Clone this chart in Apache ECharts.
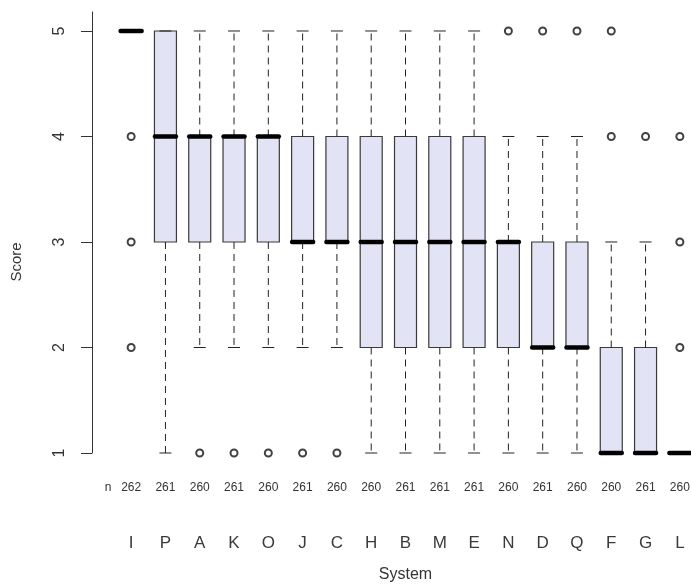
<!DOCTYPE html>
<html>
<head>
<meta charset="utf-8">
<script src="https://cdn.jsdelivr.net/npm/echarts@6/dist/echarts.min.js"></script>
<style>
  html, body { margin: 0; padding: 0; background: #fff; }
  #chart { width: 691px; height: 587px; }
</style>
</head>
<body>
<div id="chart"></div>
<script>
// Score distribution per system (box: whisker low, Q1, median, Q3, whisker high)
const systems      = ['I','P','A','K','O','J','C','H','B','M','E','N','D','Q','F','G','L'];
const counts       = [262,261,260,261,260,261,260,260,261,261,261,260,261,260,260,261,260];
const whiskerLow   = [5,1,2,2,2,2,2,1,1,1,1,1,1,1,1,1,1];
const lowerQuart   = [5,3,3,3,3,3,3,2,2,2,2,2,2,2,1,1,1];
const medians      = [5,4,4,4,4,3,3,3,3,3,3,3,2,2,1,1,1];
const upperQuart   = [5,5,4,4,4,4,4,4,4,4,4,3,3,3,2,2,1];
const whiskerHigh  = [5,5,5,5,5,5,5,5,5,5,5,4,4,4,3,3,1];

// Outlying scores
const outlierSystems = ['I','I','I','A','K','O','J','C','N','D','Q','F','F','G','L','L','L'];
const outlierScores  = [4,3,2,1,1,1,1,1,5,5,5,5,4,4,4,3,2];

const scoreTicks = [1, 2, 3, 4, 5];

const BOX_W = 22;
const CAP_W = 12;

const boxData = systems.map((s, i) =>
  [i, whiskerLow[i], lowerQuart[i], medians[i], upperQuart[i], whiskerHigh[i]]);
const outlierData = outlierSystems.map((s, i) => [s, outlierScores[i]]);

function renderBox(params, api) {
  const i = api.value(0);
  const lo = api.coord([i, api.value(1)]);
  const q1 = api.coord([i, api.value(2)]);
  const md = api.coord([i, api.value(3)]);
  const q3 = api.coord([i, api.value(4)]);
  const hi = api.coord([i, api.value(5)]);
  const x = md[0];
  const half = BOX_W / 2;
  const cap = CAP_W / 2;
  const dashed = { stroke: '#222', lineWidth: 1, lineDash: [7, 5] };
  const solid = { stroke: '#222', lineWidth: 1 };
  return {
    type: 'group',
    children: [
      { type: 'rect',
        shape: { x: x - half, y: q3[1], width: BOX_W, height: q1[1] - q3[1] },
        style: { fill: '#e3e3f6', stroke: '#3a3a3a', lineWidth: 1.2 } },
      { type: 'line', shape: { x1: x, y1: q3[1], x2: x, y2: hi[1] }, style: dashed },
      { type: 'line', shape: { x1: x, y1: q1[1], x2: x, y2: lo[1] }, style: dashed },
      { type: 'line', shape: { x1: x - cap, y1: hi[1], x2: x + cap, y2: hi[1] }, style: solid },
      { type: 'line', shape: { x1: x - cap, y1: lo[1], x2: x + cap, y2: lo[1] }, style: solid },
      { type: 'line', shape: { x1: x - half + 0.5, y1: md[1], x2: x + half - 0.5, y2: md[1] },
        style: { stroke: '#000', lineWidth: 4.5, lineCap: 'round' } }
    ]
  };
}

const chart = echarts.init(document.getElementById('chart'), null, { renderer: 'canvas' });

chart.setOption({
  animation: false,
  backgroundColor: '#ffffff',
  textStyle: { fontFamily: 'Liberation Sans, Arial, sans-serif' },
  grid: { left: 114, right: -6, top: 12, bottom: 134, outerBoundsMode: 'none' },
  xAxis: [
    {
      type: 'category',
      data: systems,
      position: 'bottom',
      axisLine: { show: false },
      axisTick: { show: false },
      splitLine: { show: false },
      axisLabel: {
        interval: 0,
        margin: 29,
        fontSize: 12,
        color: '#333',
        formatter: (v, i) => String(counts[i])
      }
    },
    {
      type: 'category',
      data: systems,
      position: 'bottom',
      axisLine: { show: false },
      axisTick: { show: false },
      splitLine: { show: false },
      axisLabel: { interval: 0, margin: 82, fontSize: 17, color: '#3a3a3a' },
      name: 'System',
      nameLocation: 'middle',
      nameGap: 114,
      nameTextStyle: { fontSize: 16, color: '#333' }
    }
  ],
  yAxis: {
    type: 'value',
    min: 1,
    max: 5.18,
    interval: 1,
    offset: 22,
    axisLine: { show: true, lineStyle: { color: '#333', width: 1 } },
    axisTick: { show: true, length: 11, customValues: scoreTicks, lineStyle: { color: '#333' } },
    axisLabel: {
      customValues: scoreTicks,
      rotate: 90,
      margin: 24,
      fontSize: 16,
      color: '#333'
    },
    splitLine: { show: false }
  },
  graphic: [
    { type: 'text', x: 108, y: 488, rotation: 0,
      style: { text: 'n', fontSize: 12, fill: '#333', align: 'center', verticalAlign: 'middle',
               fontFamily: 'Liberation Sans, Arial, sans-serif' } },
    { type: 'text', x: 17, y: 262, rotation: Math.PI / 2,
      style: { text: 'Score', fontSize: 15, fill: '#333', align: 'center', verticalAlign: 'middle',
               fontFamily: 'Liberation Sans, Arial, sans-serif' } }
  ],
  series: [
    {
      type: 'custom',
      xAxisIndex: 0,
      renderItem: renderBox,
      encode: { x: 0, y: [1, 2, 3, 4, 5] },
      data: boxData,
      z: 2
    },
    {
      type: 'scatter',
      xAxisIndex: 0,
      data: outlierData,
      symbol: 'emptyCircle',
      symbolSize: 7,
      itemStyle: { color: '#111', borderColor: '#111', borderWidth: 1.6 },
      z: 3
    }
  ]
});
</script>
</body>
</html>
